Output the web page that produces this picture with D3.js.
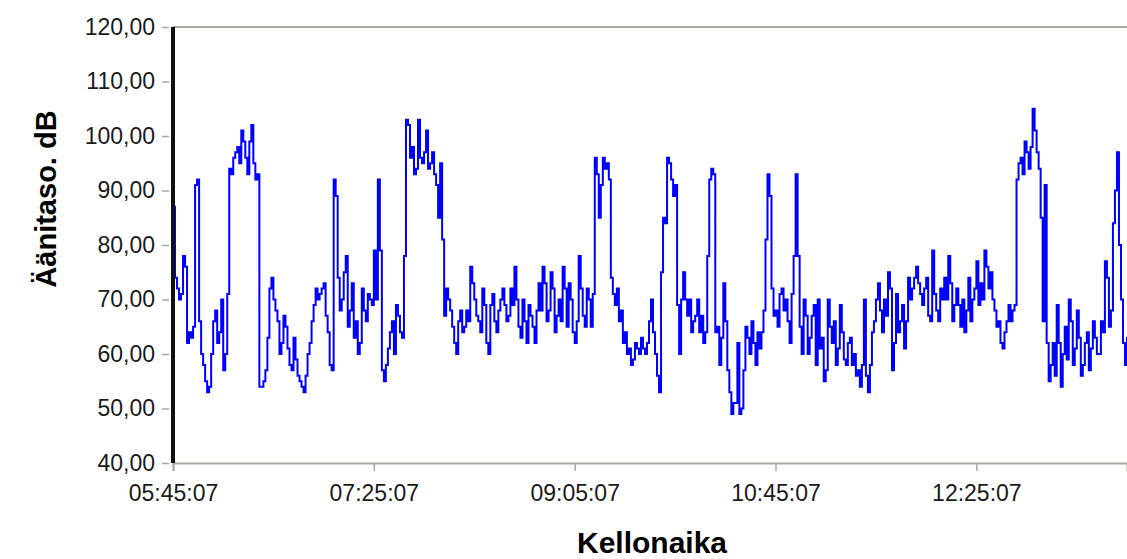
<!DOCTYPE html>
<html>
<head>
<meta charset="utf-8">
<script src="https://cdnjs.cloudflare.com/ajax/libs/d3/7.8.5/d3.min.js"></script>
<style>
    body { margin: 0; background: #fff; }
    .tick text { font-family: "Liberation Sans", Arial, sans-serif; font-size: 23px; fill: #1a1a1a; }
    .title { font-family: "Liberation Sans", Arial, sans-serif; font-weight: bold; fill: #000; }
</style>
</head>
<body>
<div id="vis"></div>
<script>
// measurement start and sampling step (minutes)
const startTime = "05:45:07";
const stepMinutes = 1;
const spanMinutes = 475;

const timeTicks = ["05:45:07", "07:25:07", "09:05:07", "10:45:07", "12:25:07"];
const levelTicks = [40, 50, 60, 70, 80, 90, 100, 110, 120];

// sound level dB, one reading per minute
const levels = [
    87, 74, 72, 70, 71, 78, 76, 62, 64, 63, 65, 91, 92, 66, 60, 58, 55, 53, 54, 60,
    66, 68, 62, 64, 70, 57, 60, 71, 94, 93, 96, 97, 98, 95, 101, 99, 96, 93, 99, 102,
    95, 92, 93, 54, 54, 55, 57, 63, 72, 74, 70, 68, 66, 60, 62, 67, 65, 61, 58, 57,
    63, 59, 56, 55, 54, 53, 56, 60, 62, 66, 69, 72, 70, 71, 72, 73, 67, 64, 58, 57,
    92, 89, 74, 68, 70, 75, 78, 65, 68, 73, 63, 66, 60, 62, 72, 68, 66, 71, 70, 69,
    79, 70, 92, 79, 57, 55, 58, 61, 64, 66, 60, 69, 67, 64, 63, 78, 103, 102, 96, 98,
    93, 94, 103, 96, 95, 97, 101, 94, 95, 97, 93, 91, 85, 95, 81, 67, 72, 70, 68, 65,
    62, 60, 66, 68, 64, 65, 68, 66, 76, 73, 70, 67, 66, 64, 72, 69, 62, 60, 69, 71,
    66, 64, 68, 70, 72, 69, 66, 67, 72, 69, 76, 70, 65, 63, 70, 66, 62, 69, 67, 65,
    62, 68, 73, 68, 76, 73, 66, 68, 75, 72, 64, 67, 70, 66, 76, 72, 65, 73, 70, 64,
    62, 66, 78, 72, 67, 65, 72, 70, 65, 71, 96, 93, 85, 91, 96, 94, 95, 92, 74, 71,
    69, 72, 66, 68, 62, 64, 60, 61, 58, 59, 62, 61, 60, 63, 61, 60, 62, 66, 70, 64,
    60, 56, 53, 75, 85, 84, 96, 95, 92, 89, 91, 69, 60, 70, 75, 70, 67, 70, 64, 66,
    67, 70, 64, 67, 62, 64, 78, 92, 94, 93, 64, 65, 58, 63, 73, 66, 57, 53, 49, 51,
    51, 62, 49, 50, 57, 65, 63, 60, 66, 62, 58, 64, 61, 64, 68, 81, 93, 89, 72, 67,
    68, 65, 71, 72, 68, 70, 66, 62, 71, 78, 93, 78, 65, 60, 70, 67, 60, 63, 67, 69,
    58, 70, 61, 63, 55, 57, 70, 65, 62, 66, 58, 61, 69, 64, 59, 58, 62, 63, 58, 60,
    56, 57, 54, 58, 70, 56, 53, 58, 64, 66, 70, 73, 68, 64, 70, 67, 75, 72, 57, 62,
    71, 64, 66, 69, 61, 66, 74, 70, 72, 74, 76, 73, 71, 69, 72, 74, 67, 66, 79, 71,
    68, 66, 72, 70, 74, 70, 78, 73, 66, 69, 72, 69, 65, 70, 64, 68, 74, 66, 70, 72,
    77, 69, 73, 70, 79, 76, 72, 75, 70, 68, 65, 66, 62, 61, 64, 66, 69, 66, 68, 69,
    92, 95, 96, 93, 99, 97, 94, 98, 105, 101, 97, 94, 85, 66, 91, 62, 55, 58, 62, 56,
    69, 62, 54, 60, 65, 59, 70, 66, 58, 61, 68, 63, 56, 58, 62, 64, 57, 61, 66, 63,
    60, 60, 66, 64, 77, 74, 65, 68, 84, 90, 97, 80, 70, 62, 58, 63, 64
];

var margin = { top: 27, right: 0, bottom: 96, left: 173 };
var width = 1127 - margin.left - margin.right,
    height = 559 - margin.top - margin.bottom;

var parseTime = d3.timeParse("%H:%M:%S");
var t0 = parseTime(startTime);

var data = levels.map((v, i) => ({ time: d3.timeMinute.offset(t0, i * stepMinutes), level: v }));

var svg = d3.select("#vis")
    .append("svg")
    .attr("width", width + margin.left + margin.right)
    .attr("height", height + margin.top + margin.bottom)
    .append("g")
    .attr("transform", "translate(" + margin.left + "," + margin.top + ")");

var x = d3.scaleTime()
    .domain([t0, d3.timeMinute.offset(t0, spanMinutes)])
    .range([0, width]);

var y = d3.scaleLinear()
    .domain([40, 120])
    .range([height, 0]);

var fi = d3.formatLocale({ decimal: ",", thousands: " ", grouping: [3], currency: ["", "€"] });

//axes
{
    var yAxis = d3.axisLeft(y)
        .tickValues(levelTicks)
        .tickSize(7)
        .tickPadding(7)
        .tickFormat(fi.format(".2f"));

    var xAxis = d3.axisBottom(x)
        .tickValues(timeTicks.map(parseTime))
        .tickSize(8)
        .tickPadding(14)
        .tickFormat(d3.timeFormat("%H:%M:%S"));

    var gy = svg.append("g")
        .attr("class", "y axis")
        .attr("transform", "translate(-4,0)")
        .call(yAxis);
    gy.select(".domain").remove();
    gy.selectAll(".tick line").attr("stroke", "#aaa79c").attr("stroke-width", 1.5);

    var gx = svg.append("g")
        .attr("class", "x axis")
        .attr("transform", "translate(0," + height + ")")
        .call(xAxis);
    gx.select(".domain").attr("stroke", "#aaa79c").attr("stroke-width", 2);
    gx.selectAll(".tick line").attr("stroke", "#aaa79c").attr("stroke-width", 1.5);

    // top border
    svg.append("line")
        .attr("x1", 0).attr("x2", width)
        .attr("y1", 0).attr("y2", 0)
        .attr("stroke", "#aaa79c")
        .attr("stroke-width", 2);
}

svg.append("clipPath")
    .attr("id", "clip")
    .append("rect")
    .attr("width", width)
    .attr("height", height);

var line = d3.line()
    .curve(d3.curveStepAfter)
    .x(d => x(d.time))
    .y(d => y(d.level));

svg.append("path")
    .datum(data)
    .attr("clip-path", "url(#clip)")
    .attr("fill", "none")
    .attr("stroke", "#0000ff")
    .attr("stroke-width", 2)
    .attr("d", line);

// thick left axis line
svg.append("line")
    .attr("x1", 0).attr("x2", 0)
    .attr("y1", 0).attr("y2", height)
    .attr("stroke", "#111")
    .attr("stroke-width", 4);

// titles
svg.append("text")
    .attr("class", "title")
    .attr("x", 652 - margin.left)
    .attr("y", 553 - margin.top)
    .attr("text-anchor", "middle")
    .style("font-size", "30px")
    .text("Kellonaika");

svg.append("text")
    .attr("class", "title")
    .attr("transform", "translate(" + (56 - margin.left) + "," + (199 - margin.top) + ") rotate(-90)")
    .attr("text-anchor", "middle")
    .style("font-size", "29px")
    .text("Äänitaso. dB");
</script>
</body>
</html>
